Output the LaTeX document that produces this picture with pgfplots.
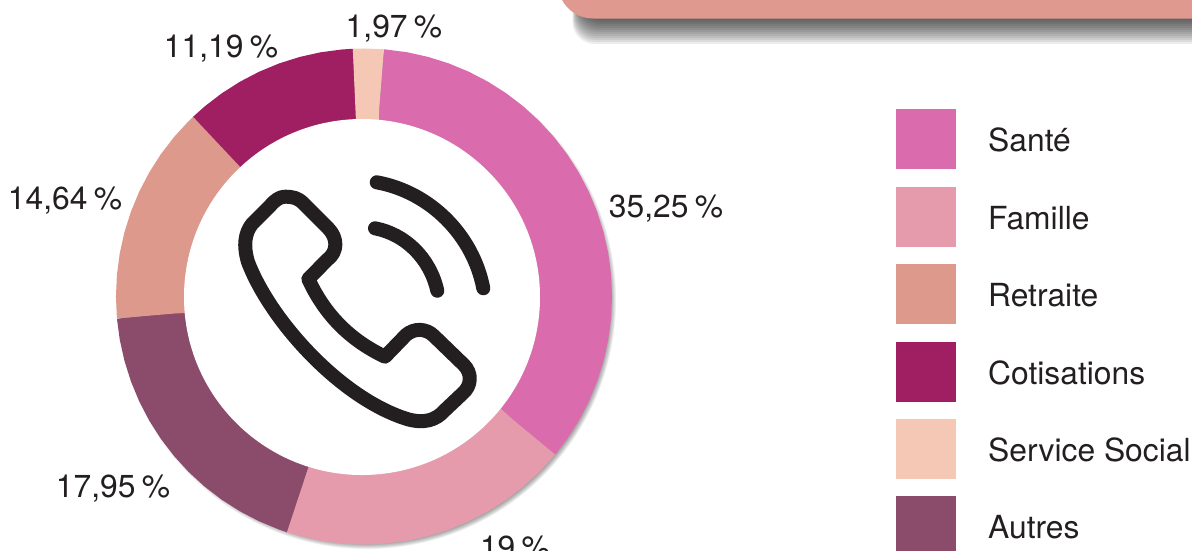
\documentclass[border=0pt]{standalone}
\usepackage{pgfplots}
\pgfplotsset{compat=1.18}
\usepgfplotslibrary{polar}
\usepackage{fontspec}
\setmainfont{TeX Gyre Heros}
\definecolor{sante}{HTML}{DA6BAD}
\definecolor{famille}{HTML}{E59BAB}
\definecolor{retraite}{HTML}{DD998C}
\definecolor{cotis}{HTML}{A01F63}
\definecolor{social}{HTML}{F5C8B5}
\definecolor{autres}{HTML}{8B4C6C}
\definecolor{ink}{HTML}{231F20}
\definecolor{banner}{HTML}{E0998E}
\newcommand{\lab}{\fontsize{31.8}{33}\selectfont}
\newcommand{\pc}{\hspace{.2em}\%}
\begin{document}
\begin{tikzpicture}
\path[use as bounding box,clip] (0pt,0pt) rectangle (1192pt,-550pt);
\begin{scope}[x=1pt,y=-1pt]
% banner shadow
\foreach \i in {1,...,14}{
  \fill[black,opacity=.07,rounded corners=22pt] (572+\i*0.6,-60) rectangle (1300,{46-\i*2});
}
\fill[banner,rounded corners=35pt] (558,-60) rectangle (1300,18.5);
% ring shadow
\foreach \i in {0,...,6}{
  \fill[black,opacity=.06] (367,300) circle ({249-\i*0.8});
}
\end{scope}
\begin{polaraxis}[at={(364pt,-296.5pt)},anchor=center,scale only axis,width=500pt,height=500pt,
  xmin=0,xmax=360,ymin=0,ymax=250,hide axis,clip=false]
\addplot[no marks,sante,line width=80pt,line cap=butt] table[row sep=\\,header=false,x index=0,y expr=208]{
85.4\\85.2\\80\\75\\70\\65\\60\\55\\50\\45\\40\\35\\30\\25\\20\\15\\10\\5\\0\\-5\\-10\\-15\\-20\\-25\\-30\\-35\\-39.4\\-39.6\\};
\addplot[no marks,famille,line width=80pt,line cap=butt] table[row sep=\\,header=false,x index=0,y expr=208]{
-39.6\\-39.8\\-45\\-50\\-55\\-60\\-65\\-70\\-75\\-80\\-85\\-90\\-95\\-100\\-105\\-108\\-108.2\\};
\addplot[no marks,autres,line width=80pt,line cap=butt] table[row sep=\\,header=false,x index=0,y expr=208]{
-108.1\\-108.3\\-110\\-115\\-120\\-125\\-130\\-135\\-140\\-145\\-150\\-155\\-160\\-165\\-170\\-174.8\\-175\\};
\addplot[no marks,retraite,line width=80pt,line cap=butt] table[row sep=\\,header=false,x index=0,y expr=208]{
-174.9\\-175.1\\-180\\-185\\-190\\-195\\-200\\-205\\-210\\-215\\-220\\-225\\-226.3\\-226.5\\};
\addplot[no marks,cotis,line width=80pt,line cap=butt] table[row sep=\\,header=false,x index=0,y expr=208]{
-226.4\\-226.6\\-230\\-235\\-240\\-245\\-250\\-255\\-260\\-265\\-267.3\\-267.5\\};
\addplot[no marks,social,line width=80pt,line cap=butt] table[row sep=\\,header=false,x index=0,y expr=208]{
-267.4\\-267.6\\-270\\-274.4\\-274.6\\};
\end{polaraxis}
\begin{scope}[x=1pt,y=-1pt]
\fill[white] (362,297) circle (178);
% phone icon
\draw[ink,line width=14pt,line join=round,line cap=round]
 (285,196.7) .. controls (293,196.7) and (298,198) .. (303.3,203.3) -- (328,228)
 .. controls (338,238) and (338,252) .. (327,260) -- (308.3,279)
 .. controls (325,315) and (350,340) .. (385,356.7) -- (406,335)
 .. controls (414,328) and (426,328) .. (434,336) -- (464,365)
 .. controls (472,373) and (472,386) .. (462,394) -- (444,411)
 .. controls (436,420) and (424,424) .. (407,419)
 .. controls (340,398) and (270,320) .. (248,262)
 .. controls (243,245) and (245,233) .. (252,224) -- (270,206)
 .. controls (275,200) and (280,196.7) .. (285,196.7) -- cycle;
\draw[ink,line width=14pt,line cap=round] (376.7,182.3) .. controls (430,192) and (473,235) .. (483.3,288.3);
\draw[ink,line width=14pt,line cap=round] (375,228.3) .. controls (405,234) and (430,258) .. (437.3,290.7);
% value labels
\foreach \x/\y/\t in {666/208.5/{35,25\pc},515/548/{19\pc},113/489/{17,95\pc},65/200.5/{14,64\pc},221/49/{11,19\pc},394/29/{1,97\pc}}{
  \node[text=ink,inner sep=0pt,font=\lab] at (\x,\y) {\t};
}
% legend
\foreach \yy/\c/\t in {109/sante/Santé,187/famille/Famille,264/retraite/Retraite,342/cotis/Cotisations,419/social/Service Social,496/autres/Autres}{
  \fill[\c] (896,\yy) rectangle (956,\yy+60);
  \node[text=ink,anchor=west,inner sep=0pt,font=\lab] at (988,\yy+31) {\t};
}
\end{scope}
\end{tikzpicture}
\end{document}
